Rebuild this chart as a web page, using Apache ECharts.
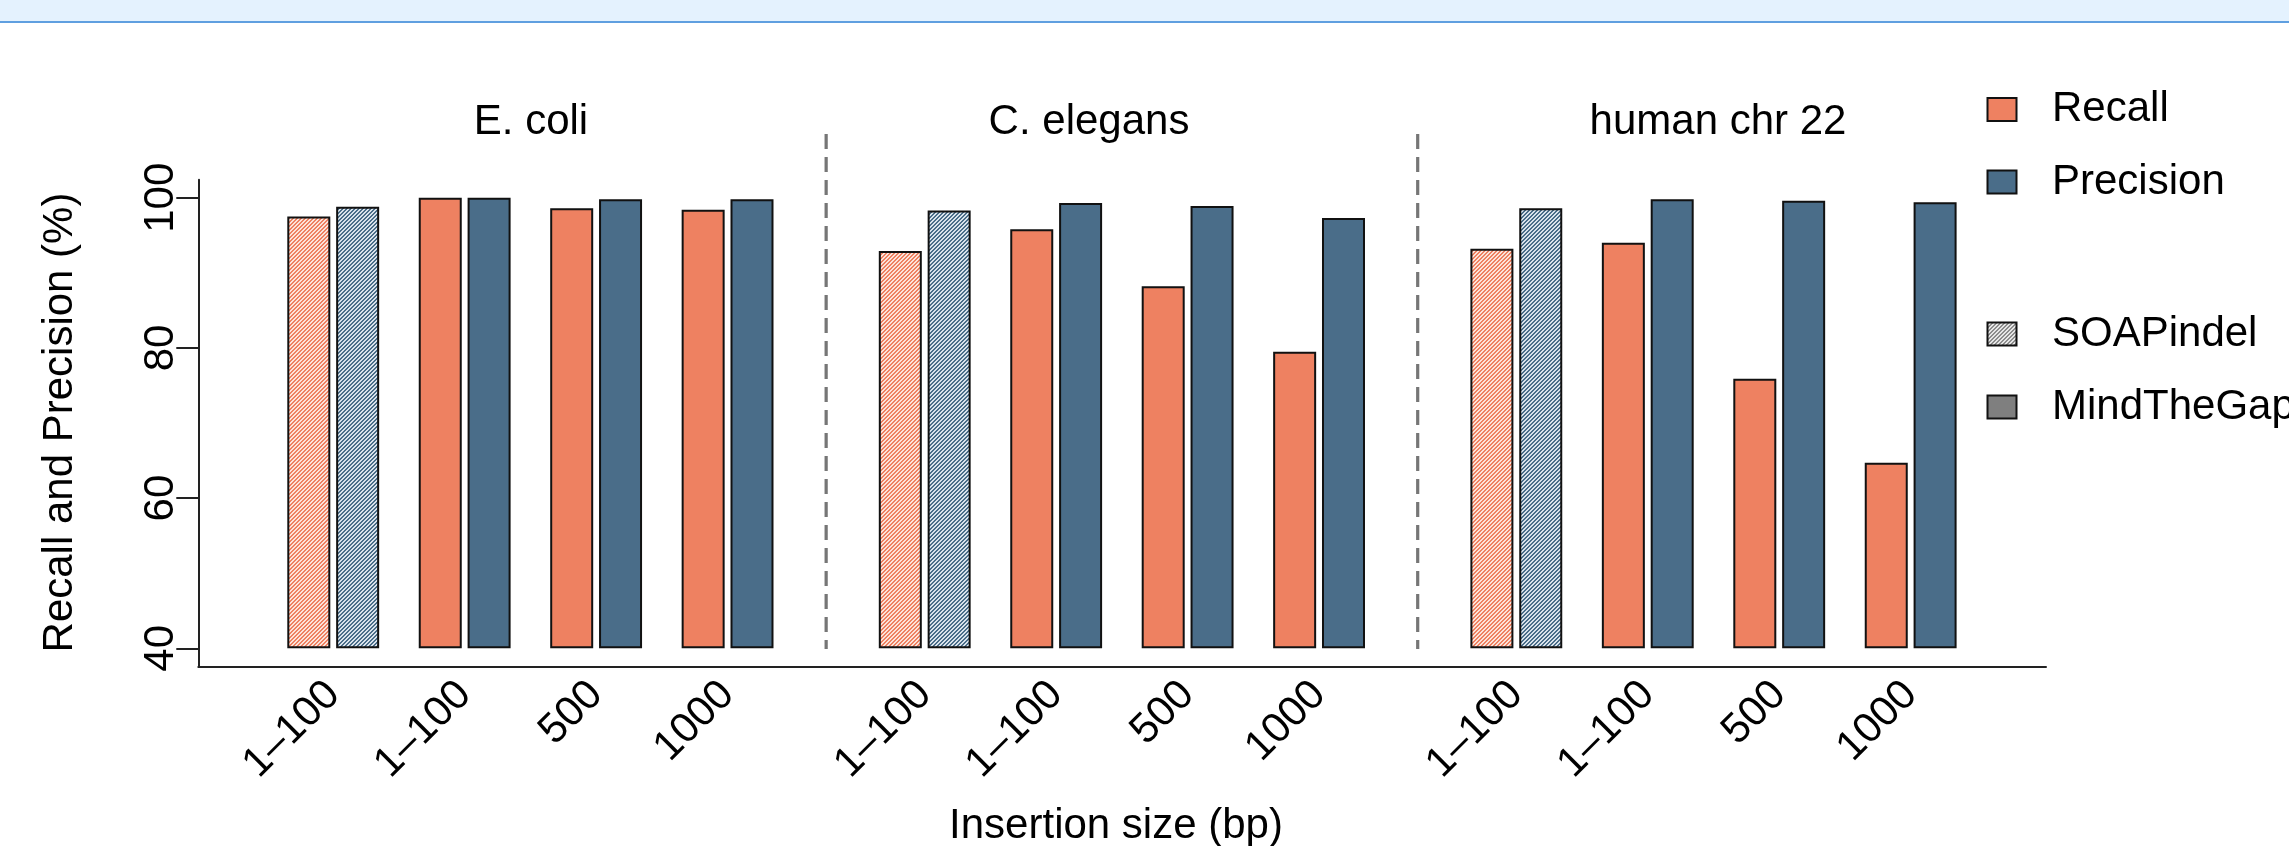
<!DOCTYPE html>
<html>
<head>
<meta charset="utf-8">
<script src="https://cdn.jsdelivr.net/npm/echarts@6/dist/echarts.min.js"></script>
<style>
html,body{margin:0;padding:0;background:#fff;}
#chart{width:2289px;height:846px;}
</style>
</head>
<body>
<div id="chart"></div>
<script>
// ---------------- data ----------------
const categories = ['1–100', '1–100', '500', '1000'];
const species = ['E. coli', 'C. elegans', 'human chr 22'];
const tools = ['SOAPindel', 'MindTheGap', 'MindTheGap', 'MindTheGap'];
const recallEcoli = [97.5, 100.0, 98.6, 98.4];
const precisionEcoli = [98.8, 100.0, 99.8, 99.8];
const recallCelegans = [92.9, 95.8, 88.2, 79.5];
const precisionCelegans = [98.3, 99.3, 98.9, 97.3];
const recallHuman = [93.2, 94.0, 75.9, 64.7];
const precisionHuman = [98.6, 99.8, 99.6, 99.4];
const yTicks = [40, 60, 80, 100];
const legendMetrics = ['Recall', 'Precision'];
const legendTools = ['SOAPindel', 'MindTheGap'];

const recallSets = [recallEcoli, recallCelegans, recallHuman];
const precisionSets = [precisionEcoli, precisionCelegans, precisionHuman];

// ---------------- style / layout ----------------
const FONT = '"Liberation Sans", Arial, Helvetica, sans-serif';
const FS = 42;
const RECALL = '#ee8161';
const PRECISION = '#4a6d89';
const W = 2289, H = 846;
const PITCH = 131.45;
const GRID_W = 4 * PITCH;
const gridLefts = [267.5, 859, 1450.6];
const PLOT_TOP = 179.7;      // value 102.4
const BASE_Y = 648.3;        // value 40
const FRAME_BOTTOM = 666.3;  // value 37.6
const FRAME_LEFT = 198.3, FRAME_RIGHT = 2046;

function hexRgb(h) {
  return [parseInt(h.slice(1,3),16), parseInt(h.slice(3,5),16), parseInt(h.slice(5,7),16)];
}
function hatch(c1, c2, n) {
  const cv = document.createElement('canvas');
  cv.width = n; cv.height = n;
  const ctx = cv.getContext('2d');
  const img = ctx.createImageData(n, n);
  const a = hexRgb(c1), b = hexRgb(c2);
  for (let y = 0; y < n; y++) {
    for (let x = 0; x < n; x++) {
      const on = ((x + y) % n) < n / 2;
      const c = on ? b : a;
      const k = (y * n + x) * 4;
      img.data[k] = c[0]; img.data[k+1] = c[1]; img.data[k+2] = c[2]; img.data[k+3] = 255;
    }
  }
  ctx.putImageData(img, 0, 0);
  return cv;
}
const hatchRecall = { image: hatch(RECALL, '#fde3d9', 4), repeat: 'repeat' };
const hatchPrecision = { image: hatch(PRECISION, '#d9e3ec', 4), repeat: 'repeat' };
const hatchGray = { image: hatch('#8c8c8c', '#e6e6e6', 4), repeat: 'repeat' };

const grids = [{
  left: FRAME_LEFT, right: W - FRAME_RIGHT, top: PLOT_TOP, bottom: H - FRAME_BOTTOM,
  outerBoundsMode: 'none', containLabel: false
}];
const xAxes = [{
  gridIndex: 0, type: 'value', min: 0, max: 1,
  axisLine: { show: true, onZero: false, lineStyle: { color: '#222', width: 2 } },
  axisTick: { show: false }, axisLabel: { show: false }, splitLine: { show: false }
}];
const yAxes = [{
  gridIndex: 0, type: 'value', min: 37.6, max: 102.4,
  axisLine: { show: true, onZero: false, lineStyle: { color: '#222', width: 2 } },
  axisTick: { show: true, length: 22, customValues: yTicks, lineStyle: { color: '#222', width: 2 } },
  axisLabel: { show: true, customValues: yTicks, rotate: 90, margin: 16, fontSize: FS, color: '#000', fontFamily: FONT },
  splitLine: { show: false }
}];
const series = [];

species.forEach((sp, i) => {
  grids.push({
    left: gridLefts[i], width: GRID_W, top: PLOT_TOP, bottom: H - BASE_Y,
    outerBoundsMode: 'none', containLabel: false
  });
  xAxes.push({
    gridIndex: i + 1, type: 'category', data: categories,
    axisLine: { show: false }, axisTick: { show: false }, splitLine: { show: false },
    axisLabel: { interval: 0, rotate: 45, margin: 40, fontSize: FS, color: '#000', fontFamily: FONT }
  });
  yAxes.push({
    gridIndex: i + 1, type: 'value', min: 40, max: 102.4, startValue: 40, show: false,
    splitLine: { show: false }
  });
  const mk = (vals, hatchFill) => vals.map((v, j) => tools[j] === 'SOAPindel'
    ? { value: v, itemStyle: { color: hatchFill } } : v);
  series.push({
    type: 'bar', name: 'Recall', xAxisIndex: i + 1, yAxisIndex: i + 1,
    data: mk(recallSets[i], hatchRecall),
    barWidth: 43, barGap: '13.6%',
    itemStyle: { color: RECALL, borderColor: '#111', borderWidth: 2 },
    animation: false
  });
  series.push({
    type: 'bar', name: 'Precision', xAxisIndex: i + 1, yAxisIndex: i + 1,
    data: mk(precisionSets[i], hatchPrecision),
    barWidth: 43, barGap: '13.6%',
    itemStyle: { color: PRECISION, borderColor: '#111', borderWidth: 2 },
    animation: false
  });
});

// ---------------- graphics: titles, separators, legend ----------------
const graphics = [
  { type: 'rect', shape: { x: 0, y: 0, width: W, height: 21 }, style: { fill: '#e4f2fe' }, silent: true },
  { type: 'rect', shape: { x: 0, y: 21, width: W, height: 2 }, style: { fill: '#5f9fe0' }, silent: true },
];
const titleX = [531, 1089, 1718];
species.forEach((sp, i) => {
  graphics.push({
    type: 'text', x: titleX[i], y: 122.5,
    style: { text: sp, fontSize: FS, fontFamily: FONT, fill: '#000', align: 'center', verticalAlign: 'middle' }
  });
});
// separators between species panels
for (let i = 0; i < 2; i++) {
  const sx = (gridLefts[i] + GRID_W + gridLefts[i + 1]) / 2;
  graphics.push({
    type: 'line', shape: { x1: sx, y1: 134, x2: sx, y2: 649 },
    style: { stroke: '#767676', lineWidth: 3.2, lineDash: [15, 8] }
  });
}
// axis titles
graphics.push({
  type: 'text', x: 60, y: 422.5, rotation: Math.PI / 2,
  style: { text: 'Recall and Precision (%)', fontSize: FS, fontFamily: FONT, fill: '#000', align: 'center', verticalAlign: 'middle' }
});
graphics.push({
  type: 'text', x: 1116, y: 826,
  style: { text: 'Insertion size (bp)', fontSize: FS, fontFamily: FONT, fill: '#000', align: 'center', verticalAlign: 'middle' }
});
// legend
const legendItems = [
  { name: legendMetrics[0], fill: RECALL, y: 109.5 },
  { name: legendMetrics[1], fill: PRECISION, y: 182 },
  { name: legendTools[0], fill: hatchGray, y: 334 },
  { name: legendTools[1], fill: '#7f7f7f', y: 407 }
];
legendItems.forEach(it => {
  graphics.push({
    type: 'rect', shape: { x: 1987.5, y: it.y - 11.5, width: 29, height: 23 },
    style: { fill: it.fill, stroke: '#111', lineWidth: 2 }
  });
  graphics.push({
    type: 'text', x: 2052, y: it.y,
    style: { text: it.name, fontSize: FS, fontFamily: FONT, fill: '#000', align: 'left', verticalAlign: 'middle' }
  });
});

const chart = echarts.init(document.getElementById('chart'), null, { renderer: 'canvas' });
chart.setOption({
  animation: false,
  backgroundColor: '#fff',
  textStyle: { fontFamily: FONT },
  grid: grids,
  xAxis: xAxes,
  yAxis: yAxes,
  series: series,
  graphic: graphics
});
</script>
</body>
</html>
